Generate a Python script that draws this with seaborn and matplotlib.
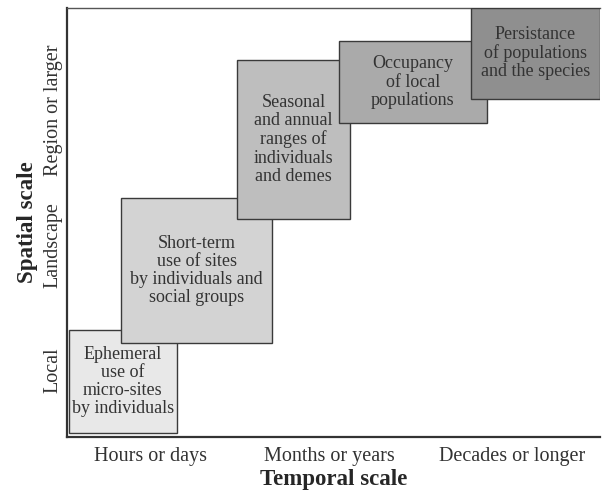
import matplotlib
matplotlib.use("Agg")
import matplotlib.pyplot as plt
import seaborn as sns

# scale units: 0-100 on both axes
labels = [
    "Ephemeral\nuse of\nmicro-sites\nby individuals",
    "Short-term\nuse of sites\nby individuals and\nsocial groups",
    "Seasonal\nand annual\nranges of\nindividuals\nand demes",
    "Occupancy\nof local\npopulations",
    "Persistance\nof populations\nand the species",
]
x_start = [0.3, 10.1, 31.9, 51.0, 75.8]
x_end = [20.6, 38.5, 53.1, 78.8, 100.0]
y_start = [0.9, 21.9, 50.8, 73.2, 78.8]
y_end = [24.9, 55.7, 87.9, 92.3, 100.0]
fills = ["#e8e8e8", "#d3d3d3", "#bebebe", "#aaaaaa", "#8f8f8f"]

x_ticks = [15.6, 49.3, 83.5]
x_ticklabels = ["Hours or days", "Months or years", "Decades or longer"]
y_ticks = [15.6, 44.8, 76.2]
y_ticklabels = ["Local", "Landscape", "Region or larger"]

sns.set_style("white")
plt.rcParams["font.family"] = ["Liberation Serif", "DejaVu Serif"]

fig = plt.figure(figsize=(6.03, 4.94), dpi=100)
ax = fig.add_axes([67 / 603, 57 / 494, 533 / 603, 429 / 494])

for i in range(len(labels)):
    w = x_end[i] - x_start[i]
    h = y_end[i] - y_start[i]
    ax.bar(x_start[i], h, width=w, bottom=y_start[i], align="edge",
           color=fills[i], edgecolor="#3a3a3a", linewidth=1.0, zorder=2 + i)
    ax.text(x_start[i] + w / 2, y_start[i] + h / 2, labels[i],
            ha="center", va="center", fontsize=13, color="#333333",
            linespacing=1.08, zorder=10)

ax.set_xlim(0, 100)
ax.set_ylim(0, 100)
ax.set_xticks(x_ticks)
ax.set_xticklabels(x_ticklabels, fontsize=14.5, color="#333333")
ax.set_yticks(y_ticks)
ax.set_yticklabels(y_ticklabels, fontsize=14.5, color="#333333",
                   rotation=90, va="center")
ax.tick_params(axis="x", length=0, pad=7)
ax.tick_params(axis="y", length=0, pad=3)
ax.set_xlabel("Temporal scale", fontsize=16.5, fontweight="bold", labelpad=2)
ax.set_ylabel("Spatial scale", fontsize=16.5, fontweight="bold", labelpad=4)

for side in ["left", "bottom"]:
    ax.spines[side].set_color("#333333")
    ax.spines[side].set_linewidth(1.6)
ax.spines["top"].set_color("#555555")
ax.spines["top"].set_linewidth(1.0)
ax.spines["right"].set_visible(False)

fig.savefig("out.png", dpi=100)
